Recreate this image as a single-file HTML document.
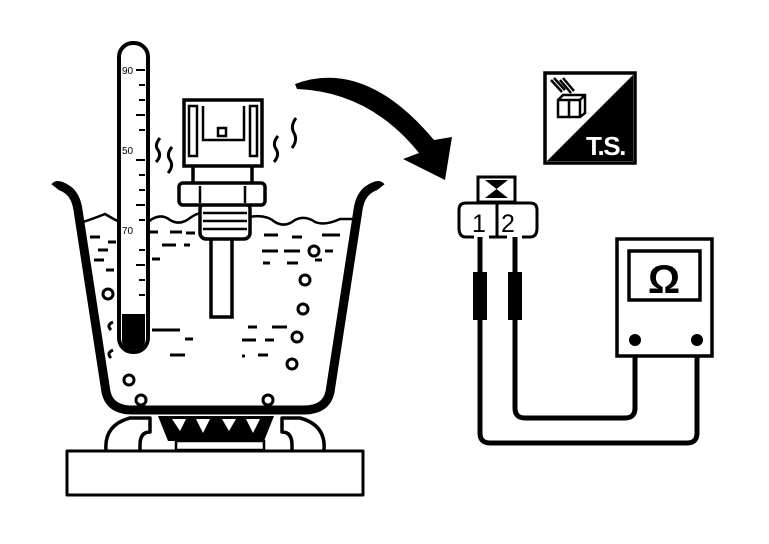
<!DOCTYPE html>
<html><head><meta charset="utf-8"><style>
html,body{margin:0;padding:0;background:#fff}
svg{display:block}
</style></head><body>
<svg width="769" height="544" viewBox="0 0 769 544" xmlns="http://www.w3.org/2000/svg">
<rect width="769" height="544" fill="#fff"/>
<g fill="none" stroke="#000" stroke-linecap="round" stroke-linejoin="round">
<rect x="67" y="451" width="296" height="44" stroke-width="3" fill="#fff"/>
<path d="M106 450 Q104 425 130 418 L150 418 L150 432 Q140 432 140 445 L140 450" stroke-width="3.5"/>
<path d="M324 450 Q326 425 300 418 L282 418 L282 432 Q292 432 292 445 L292 450" stroke-width="3.5"/>
</g>
<path d="M158 416 L274 416 L264 441 L168 441 Z" fill="#000"/>
<path d="M172 419 L186 419 L180 431 Z M196 419 L210 419 L203 433 Z M222 419 L236 419 L229 431 Z M246 419 L260 419 L253 433 Z" fill="#fff"/>
<rect x="176" y="441" width="88" height="9" fill="#fff" stroke="#000" stroke-width="2.5"/>
<path d="M55 187 Q58 183 68 190 Q76 196 78 210 L106 392 Q110 410 132 410 L304 410 Q326 410 330 392 L358 210 Q360 196 368 190 Q378 183 381 187" fill="none" stroke="#000" stroke-width="9" stroke-linejoin="round"/>
<path d="M83 222 Q95 218 105 214 Q115 220 120 222 M148 222 Q160 212 170 220 Q180 226 190 218 Q198 212 205 213 M250 217 Q265 214 275 222 Q285 228 295 220 Q305 215 315 222 Q325 226 340 219 L355 219" fill="none" stroke="#000" stroke-width="2.5"/>
<g stroke="#000" stroke-width="3">
<line x1="90" y1="237" x2="100" y2="237"/><line x1="108" y1="242" x2="116" y2="242"/>
<line x1="98" y1="250" x2="108" y2="250"/><line x1="94" y1="260" x2="104" y2="260"/>
<line x1="106" y1="270" x2="114" y2="270"/><line x1="150" y1="232" x2="158" y2="232"/>
<line x1="170" y1="232" x2="182" y2="232"/><line x1="186" y1="233" x2="195" y2="233"/>
<line x1="162" y1="245" x2="176" y2="245"/><line x1="184" y1="245" x2="190" y2="245"/>
<line x1="152" y1="259" x2="160" y2="259"/><line x1="264" y1="235" x2="278" y2="235"/>
<line x1="292" y1="237" x2="302" y2="237"/><line x1="322" y1="235" x2="340" y2="235"/>
<line x1="262" y1="251" x2="278" y2="251"/><line x1="284" y1="251" x2="300" y2="251"/>
<line x1="325" y1="251" x2="333" y2="251"/><line x1="263" y1="263" x2="270" y2="263"/>
<line x1="287" y1="263" x2="298" y2="263"/><line x1="315" y1="260" x2="322" y2="260"/>
<line x1="152" y1="330" x2="180" y2="330"/><line x1="185" y1="339" x2="193" y2="339"/>
<line x1="170" y1="355" x2="185" y2="355"/><line x1="248" y1="327" x2="257" y2="327"/>
<line x1="272" y1="327" x2="287" y2="327"/><line x1="242" y1="340" x2="256" y2="340"/>
<line x1="265" y1="340" x2="274" y2="340"/><line x1="242" y1="356" x2="245" y2="356"/>
<line x1="258" y1="355" x2="268" y2="355"/>
</g>
<g fill="none" stroke="#000" stroke-width="3">
<circle cx="108" cy="294" r="5"/><circle cx="129" cy="380" r="5"/>
<circle cx="141" cy="400" r="5"/><circle cx="268" cy="400" r="5"/>
<circle cx="292" cy="364" r="5"/><circle cx="297" cy="337" r="5"/>
<circle cx="303" cy="309" r="5"/><circle cx="305" cy="280" r="5"/>
<circle cx="314" cy="251" r="5"/>
<path d="M113 322 Q106 325 111 330"/><path d="M113 350 Q106 353 111 358"/>
</g>
<rect x="119" y="43" width="29" height="309" rx="14" fill="#fff" stroke="#000" stroke-width="4"/>
<path d="M122 314 L145 314 L145 340 Q145 350 133 350 Q122 350 122 340 Z" fill="#000"/>
<g stroke="#000" stroke-width="2">
<line x1="136" y1="70" x2="145" y2="70"/><line x1="139" y1="85" x2="145" y2="85"/>
<line x1="139" y1="100" x2="145" y2="100"/><line x1="136" y1="115" x2="145" y2="115"/>
<line x1="139" y1="130" x2="145" y2="130"/><line x1="136" y1="160" x2="145" y2="160"/>
<line x1="139" y1="175" x2="145" y2="175"/><line x1="139" y1="190" x2="145" y2="190"/>
<line x1="136" y1="205" x2="145" y2="205"/><line x1="139" y1="220" x2="145" y2="220"/>
<line x1="139" y1="250" x2="145" y2="250"/><line x1="136" y1="265" x2="145" y2="265"/>
<line x1="139" y1="280" x2="145" y2="280"/><line x1="139" y1="295" x2="145" y2="295"/>
</g>
<g font-family="Liberation Sans, sans-serif" font-size="10" fill="#000">
<text x="122" y="74">90</text><text x="122" y="154">50</text><text x="122" y="234">70</text>
</g>
<g fill="#fff" stroke="#000" stroke-width="3.5">
<rect x="211" y="238" width="21" height="79"/>
<rect x="200" y="203" width="50" height="36" rx="6"/>
<rect x="193" y="164" width="59" height="22"/>
<rect x="179" y="183" width="86" height="22" rx="4"/>
<rect x="184" y="100" width="78" height="66"/>
</g>
<g stroke="#000" stroke-width="2.5" fill="none">
<line x1="203" y1="213" x2="247" y2="213"/><line x1="203" y1="221" x2="247" y2="221"/><line x1="203" y1="229" x2="247" y2="229"/>
<line x1="200" y1="186" x2="200" y2="203"/><line x1="245" y1="186" x2="245" y2="203"/>
<path d="M189 106 L189 156 L197 156 L197 106 Z"/>
<path d="M203 106 L203 140 L244 140 L244 106"/>
<path d="M250 106 L250 156 L257 156 L257 106 Z"/>
<rect x="218" y="128" width="8" height="8"/>
</g>
<g fill="none" stroke="#000" stroke-width="3">
<path d="M160 138 Q154 145 158 150 Q162 156 156 162"/>
<path d="M172 147 Q166 154 170 160 Q174 166 168 173"/>
<path d="M278 136 Q272 143 276 149 Q280 155 274 162"/>
<path d="M296 118 Q290 126 294 133 Q298 140 292 148"/>
</g>
<path d="M295 84 Q365 58 434 140 L452 137 L445 180 L403 159 L419 153 Q370 92 297 89 Z" fill="#000"/>
<rect x="545" y="73" width="90" height="90" fill="#fff" stroke="#000" stroke-width="3.5"/>
<path d="M633 75 L633 161 L547 161 Z" fill="#000"/>
<text x="586" y="155" font-family="Liberation Sans, sans-serif" font-weight="bold" font-size="26" fill="#fff" letter-spacing="-1.5">T.S.</text>
<g fill="none" stroke="#000" stroke-width="2.5">
<path d="M558 100 L563 95 L585 95 L585 113 L580 117 L558 117 Z M558 100 L580 100 L585 95 M580 100 L580 117 M569 100 L569 117"/>
<path d="M551 80 L562 92 M554 78 L565 90 M560 80 L571 93 M563 78 L574 91"/>
</g>
<rect x="478" y="177" width="37" height="25" fill="#fff" stroke="#000" stroke-width="3"/>
<path d="M485 180 L508 180 L485 198 L508 198 Z" fill="#000"/>
<path d="M474 237 L466 237 Q459 237 459 228 L459 210 Q459 203 466 203 L530 203 Q537 203 537 210 L537 228 Q537 237 530 237 L522 237 M489 237 L507 237 M497 203 L497 237" fill="none" stroke="#000" stroke-width="3"/>
<text x="472" y="232" font-family="Liberation Sans, sans-serif" font-size="25" fill="#000">1</text>
<text x="501" y="232" font-family="Liberation Sans, sans-serif" font-size="25" fill="#000">2</text>
<g fill="none" stroke="#000" stroke-width="5" stroke-linejoin="round">
<path d="M480 237 L480 433 Q480 443 490 443 L687 443 Q697 443 697 433 L697 340"/>
<path d="M515 237 L515 408 Q515 418 525 418 L625 418 Q635 418 635 408 L635 340"/>
</g>
<rect x="473" y="272" width="14" height="48" fill="#000"/>
<rect x="508" y="272" width="14" height="48" fill="#000"/>
<rect x="617" y="239" width="95" height="117" fill="#fff" stroke="#000" stroke-width="3.5"/>
<rect x="629" y="251" width="71" height="49" fill="#fff" stroke="#000" stroke-width="3.5"/>
<text x="664" y="293" text-anchor="middle" font-family="Liberation Sans, sans-serif" font-weight="bold" font-size="40" fill="#000">Ω</text>
<circle cx="635" cy="340" r="6" fill="#000"/>
<circle cx="697" cy="340" r="6" fill="#000"/>
</svg>
</body></html>
